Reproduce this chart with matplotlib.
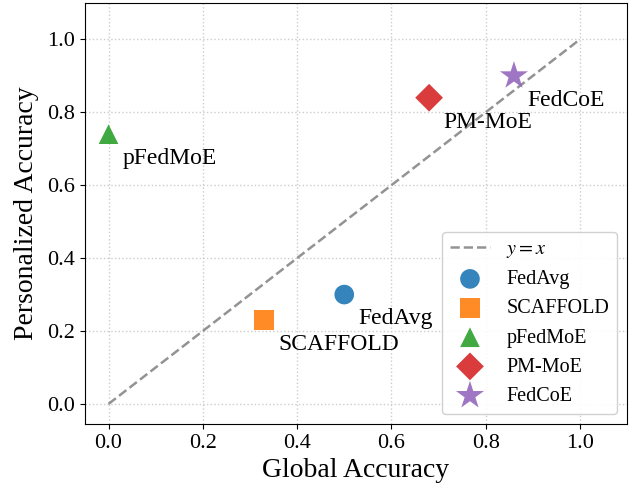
import matplotlib
matplotlib.use("Agg")
import matplotlib.pyplot as plt

plt.rcParams['font.family'] = ['Liberation Serif', 'DejaVu Serif']
plt.rcParams['mathtext.fontset'] = 'stix'

methods = ["FedAvg", "SCAFFOLD", "pFedMoE", "PM-MoE", "FedCoE"]
global_acc = [0.50, 0.33, 0.00, 0.68, 0.86]
personal_acc = [0.30, 0.23, 0.74, 0.84, 0.90]
markers = ["o", "s", "^", "D", "*"]
colors = ["#1f77b4", "#ff7f0e", "#2ca02c", "#d62728", "#9467bd"]
sizes = [200, 200, 200, 200, 450]
ticks = [0.0, 0.2, 0.4, 0.6, 0.8, 1.0]

fig = plt.figure(figsize=(6.36, 4.91), dpi=100)
ax = fig.add_axes([0.1336, 0.1365, 0.986 - 0.1336, 0.994 - 0.1365])

ax.plot([0, 1], [0, 1], linestyle="--", color="gray", lw=1.8, alpha=0.85, label=r"$y = x$")
for m, gx, py, mk, c, s in zip(methods, global_acc, personal_acc, markers, colors, sizes):
    ax.scatter(gx, py, marker=mk, color=c, s=s, alpha=0.9, label=m, edgecolors="none", zorder=3)
    ax.annotate(m, (gx, py), xytext=(10, -10), textcoords="offset points",
                ha="left", va="top", fontsize=17)

ax.set_xlim(-0.05, 1.1)
ax.set_ylim(-0.055, 1.1)
ax.set_xticks(ticks)
ax.set_yticks(ticks)
ax.tick_params(labelsize=16)
ax.set_xlabel("Global Accuracy", fontsize=20)
ax.set_ylabel("Personalized Accuracy", fontsize=20, labelpad=6)
ax.grid(True, linestyle=":", color="#cccccc", lw=1)
ax.legend(loc="lower right", fontsize=14.5, framealpha=0.9)

fig.savefig("out.png", dpi=100)
